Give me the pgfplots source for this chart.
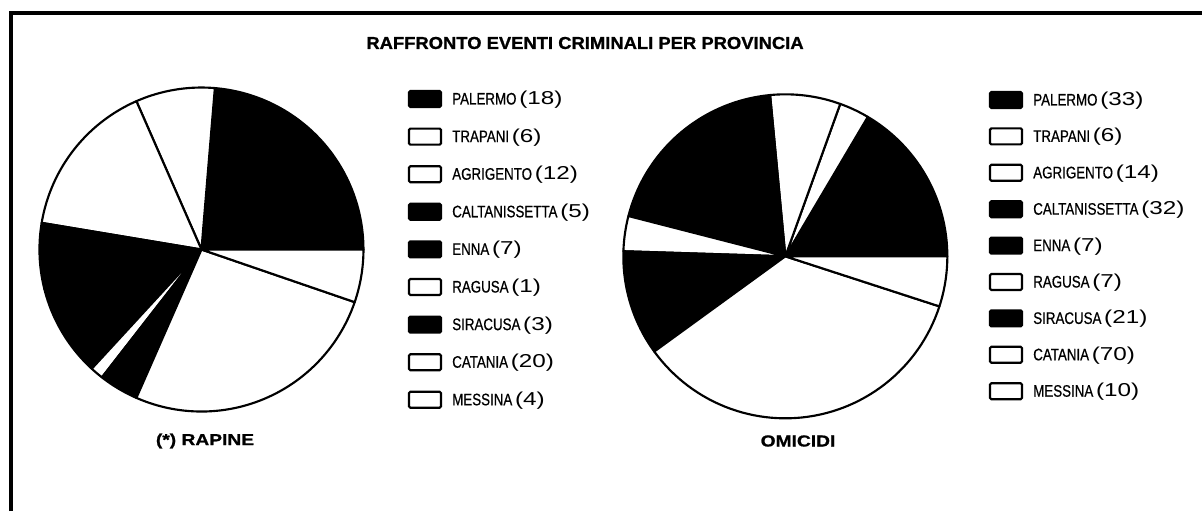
\documentclass[border=0pt]{standalone}
\usepackage{pgfplots}
\usepackage{pgfplotstable}
\pgfplotsset{compat=1.18}
\usepackage{fontspec}
\setmainfont{Liberation Sans}
\newfontfamily\titlefont[FakeStretch=1.07, FakeBold=1]{Liberation Sans Bold}
\newfontfamily\namefont[FakeStretch=0.8, FakeBold=0.6]{Liberation Sans}
\newfontfamily\numfont[FakeStretch=1.3]{Liberation Sans}
\newfontfamily\subfont[FakeStretch=1.2, FakeBold=1]{Liberation Sans Bold}

\pgfplotstableread{
name value fill
PALERMO 18 black
TRAPANI 6 white
AGRIGENTO 12 white
CALTANISSETTA 5 black
ENNA 7 black
RAGUSA 1 white
SIRACUSA 3 black
CATANIA 20 white
MESSINA 4 white
}\rapine

\pgfplotstableread{
name value fill
PALERMO 33 black
TRAPANI 6 white
AGRIGENTO 14 white
CALTANISSETTA 32 black
ENNA 7 black
RAGUSA 7 white
SIRACUSA 21 black
CATANIA 70 white
MESSINA 10 white
}\omicidi

% draws the slices of a pie from a table (counter-clockwise from 0 deg)
\newcommand\drawpie[1]{%
  \pgfplotstablegetrowsof{#1}\pgfmathtruncatemacro\pieN{\pgfplotsretval-1}%
  \xdef\pietotal{0}%
  \pgfplotsforeachungrouped \pieI in {0,...,\pieN}{%
    \pgfplotstablegetelem{\pieI}{value}\of{#1}%
    \pgfmathsetmacro\pietmp{\pietotal+\pgfplotsretval}\xdef\pietotal{\pietmp}}%
  \xdef\piecum{0}%
  \pgfplotsforeachungrouped \pieI in {0,...,\pieN}{%
    \pgfplotstablegetelem{\pieI}{value}\of{#1}\let\pieV\pgfplotsretval
    \pgfplotstablegetelem{\pieI}{fill}\of{#1}\let\pieC\pgfplotsretval
    \pgfmathsetmacro\pieA{360*(\piecum/\pietotal)}%
    \pgfmathsetmacro\pietmp{\piecum+\pieV}\xdef\piecum{\pietmp}%
    \pgfmathsetmacro\pieB{360*(\piecum/\pietotal)}%
    \edef\piedo{\noexpand\addplot[draw=black, fill=\pieC, line width=1.6pt, line join=round,
      domain=\pieA:\pieB, samples=60, variable=\noexpand\t, forget plot]
      ({cos(\noexpand\t)},{sin(\noexpand\t)}) -- (axis cs:0,0) -- cycle;}%
    \piedo
  }%
}

% legend: table, x of box, Y of first row centre, row pitch (all in px)
\newcommand\drawlegend[4]{%
  \pgfplotstablegetrowsof{#1}\pgfmathtruncatemacro\lgN{\pgfplotsretval-1}%
  \foreach \lgI in {0,...,\lgN}{%
    \pgfplotstablegetelem{\lgI}{name}\of{#1}\let\lgname\pgfplotsretval
    \pgfplotstablegetelem{\lgI}{value}\of{#1}\let\lgval\pgfplotsretval
    \pgfplotstablegetelem{\lgI}{fill}\of{#1}\let\lgfill\pgfplotsretval
    \pgfmathsetmacro\lgy{#3-#4*\lgI}%
    \draw[line width=1.6pt, fill=\lgfill, rounded corners=1pt] (#2,\lgy-8) rectangle ++(32,16);
    \node[anchor=base west, inner sep=0pt] at (#2+43,\lgy-5.5)
      {\namefont\fontsize{12.5pt}{14pt}\selectfont\lgname\,{\numfont\fontsize{14pt}{16pt}\selectfont(\lgval)}};
  }%
}

\begin{document}
\begin{tikzpicture}[x=0.75pt,y=0.75pt]
\useasboundingbox (0,0) rectangle (1202,511);
\fill[white] (0,0) rectangle (1202,511);
% frame
\draw[line width=3pt] (11,0) -- (11,498) -- (1202,498);

% title
\node[inner sep=0pt] at (585,468) {\titlefont\fontsize{12.9pt}{15pt}\selectfont RAFFRONTO EVENTI CRIMINALI PER PROVINCIA};

% pies
\begin{axis}[at={(151.1pt,196.1pt)}, anchor=center, width=243pt, height=243pt,
  scale only axis, xmin=-1, xmax=1, ymin=-1, ymax=1, hide axis, clip=false]
\drawpie{\rapine}
\end{axis}
\begin{axis}[at={(589.0pt,191.0pt)}, anchor=center, width=243pt, height=243pt,
  scale only axis, xmin=-1, xmax=1, ymin=-1, ymax=1, hide axis, clip=false]
\drawpie{\omicidi}
\end{axis}

% legends
\drawlegend{\rapine}{409}{412}{37.6}
\drawlegend{\omicidi}{990}{411}{36.4}

% subtitles
\node[inner sep=0pt] at (205,70) {\subfont\fontsize{12pt}{14pt}\selectfont (*) RAPINE};
\node[inner sep=0pt] at (798,70) {\subfont\fontsize{12pt}{14pt}\selectfont OMICIDI};
\end{tikzpicture}
\end{document}
